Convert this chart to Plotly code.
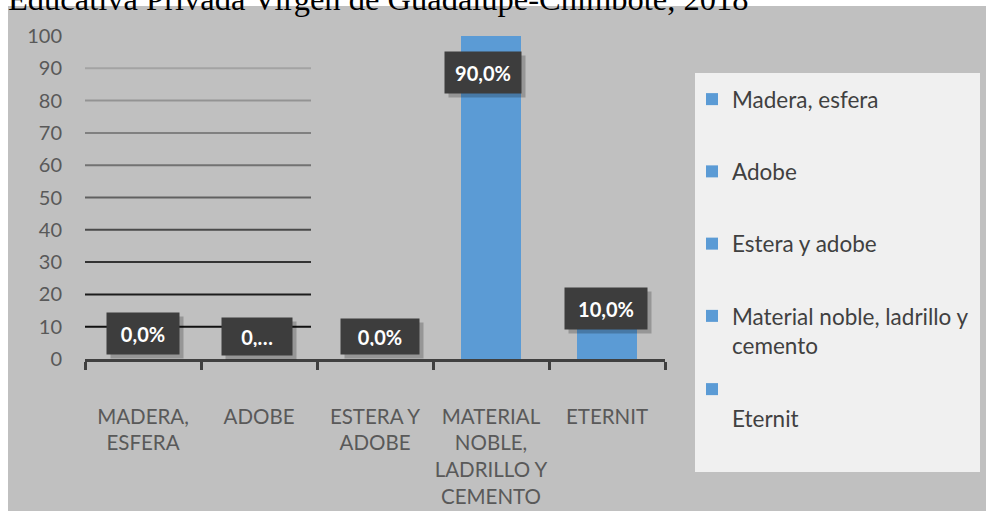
import plotly.graph_objects as go

# ---- data ----
categories = ["MADERA,<br>ESFERA", "ADOBE", "ESTERA Y<br>ADOBE",
              "MATERIAL<br>NOBLE,<br>LADRILLO Y<br>CEMENTO", "ETERNIT"]
legend_names = ["Madera, esfera", "Adobe", "Estera y adobe",
                "Material noble, ladrillo y<br>cemento", "<br>Eternit"]
bar_heights = [0, 0, 0, 100, 10]          # heights as drawn (the 90 % bar reaches the top)
data_labels = ["0,0%", "0,…", "0,0%", "90,0%", "10,0%"]
y_ticks = [0, 10, 20, 30, 40, 50, 60, 70, 80, 90, 100]
title_text = "Educativa Privada Virgen de Guadalupe-Chimbote, 2018"

# ---- style ----
W, H = 986, 511
L, R, T, B = 85, 321, 36, 152
PW, PH = W - L - R, H - T - B
BLUE = "#5b9bd5"
FONT = "Lato"


def px_x(p):
    return (p - L) / PW


def px_y(p):
    return (H - B - p) / PH


fig = go.Figure()
for i, (cat, name, h) in enumerate(zip(categories, legend_names, bar_heights)):
    fig.add_trace(go.Bar(
        x=[cat], y=[h], name=name, width=0.51,
        marker=dict(color=BLUE, line=dict(width=0)),
        legendgroup="g%d" % i,
        legend="legend" if i < 4 else "legend2",
        hoverinfo="skip",
    ))

shapes = []
# grey chart background
shapes.append(dict(type="rect", xref="paper", yref="paper",
                   x0=px_x(8), x1=px_x(W + 5), y0=px_y(H + 5), y1=px_y(6),
                   fillcolor="#c0c0c0", line=dict(width=0), layer="below"))
# legend box
shapes.append(dict(type="rect", xref="paper", yref="paper",
                   x0=px_x(695), x1=px_x(980), y0=px_y(472), y1=px_y(73),
                   fillcolor="#f0f0f0", line=dict(width=0), layer="below"))
# partial gradient gridlines
grid_colors = {10: "#111111", 20: "#1c1c1c", 30: "#333333", 40: "#4a4a4a",
               50: "#606060", 60: "#727272", 70: "#808080", 80: "#939393", 90: "#a3a3a3"}
for v in y_ticks:
    if v in grid_colors:
        shapes.append(dict(type="line", xref="paper", yref="y",
                           x0=0, x1=px_x(311), y0=v, y1=v,
                           line=dict(color=grid_colors[v], width=2), layer="below"))

annotations = []
# title (cut by the top of the page)
annotations.append(dict(text=title_text, xref="paper", yref="paper",
                        x=px_x(6), y=px_y(-1), xanchor="left", yanchor="middle",
                        showarrow=False,
                        font=dict(family="Liberation Serif", size=32.5, color="#000000")))
# data labels (dark boxes with a soft drop shadow)
label_shift = [(0, 26), (-2, 23), (5, 23), (-8, -36), (-1, 18)]
label_box = [(56, 25), (54, 21), (62, 19), (60, 25), (66, 25)]
for cat, h, txt, (dx, dy), (bw, bh) in zip(categories, bar_heights, data_labels,
                                           label_shift, label_box):
    annotations.append(dict(text=" ", x=cat, y=h, xref="x", yref="y",
                            xshift=dx + 4, yshift=dy - 4, showarrow=False,
                            width=bw, height=bh,
                            bgcolor="rgba(0,0,0,0.22)", borderpad=8,
                            font=dict(family=FONT, size=20, color="rgba(0,0,0,0)")))
    annotations.append(dict(text="<b>%s</b>" % txt, x=cat, y=h, xref="x", yref="y",
                            xshift=dx, yshift=dy, showarrow=False,
                            width=bw, height=bh,
                            bgcolor="#3d3d3d", borderpad=8,
                            font=dict(family=FONT, size=20, color="#ffffff")))

fig.update_layout(
    width=W, height=H,
    margin=dict(l=L, r=R, t=T, b=B, autoexpand=False),
    paper_bgcolor="#ffffff", plot_bgcolor="rgba(0,0,0,0)",
    barmode="overlay", bargap=0,
    showlegend=True,
    legend=dict(x=px_x(692), y=px_y(78), xanchor="left", yanchor="top",
                bgcolor="rgba(0,0,0,0)", tracegroupgap=40, valign="top",
                font=dict(family=FONT, size=22.5, color="#404040")),
    legend2=dict(x=px_x(692), y=px_y(368), xanchor="left", yanchor="top",
                 bgcolor="rgba(0,0,0,0)", valign="top",
                 font=dict(family=FONT, size=22.5, color="#404040")),
    xaxis=dict(range=[-0.5, 4.5], showgrid=False, zeroline=False,
               showline=True, linecolor="#404040", linewidth=3,
               ticks="outside", tickson="boundaries", ticklen=8,
               tickwidth=3, tickcolor="#404040", ticklabelstandoff=37,
               tickangle=0,
               tickfont=dict(family=FONT, size=20.5, color="#595959")),
    yaxis=dict(range=[0, 100], tickvals=y_ticks, showgrid=False, zeroline=False,
               showline=False, ticks="", ticklabelstandoff=22,
               tickfont=dict(family=FONT, size=20, color="#595959")),
    shapes=shapes, annotations=annotations,
)

fig.write_html("out.html", config={"displayModeBar": False},
               post_script="document.body.style.margin='0';")
